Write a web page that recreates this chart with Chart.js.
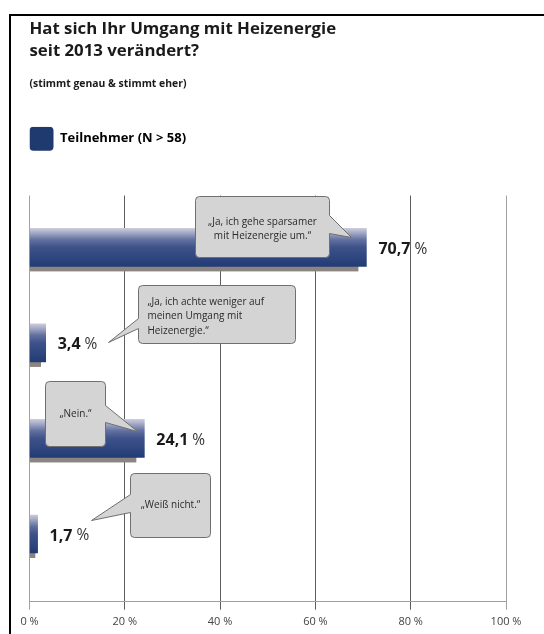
<!DOCTYPE html>
<html><head><meta charset="utf-8">
<script src="https://cdn.jsdelivr.net/npm/chart.js@4.4.1/dist/chart.umd.min.js"></script>
<style>html,body{margin:0;padding:0;background:#fff;}#wrap{width:544px;height:634px;}</style>
</head><body><div id="wrap"><canvas id="c" width="544" height="634"></canvas></div>
<script>
// ---- data ----
const titleLines = ['Hat sich Ihr Umgang mit Heizenergie', 'seit 2013 verändert?'];
const subtitleText = '(stimmt genau & stimmt eher)';
const seriesName = 'Teilnehmer (N > 58)';
const categories = [
  ['„Ja, ich gehe sparsamer', 'mit Heizenergie um.“'],
  ['„Ja, ich achte weniger auf', 'meinen Umgang mit', 'Heizenergie.“'],
  ['„Nein.“'],
  ['„Weiß nicht.“']
];
const values = [70.7, 3.4, 24.1, 1.7];
const tickValues = [0, 20, 40, 60, 80, 100];

// ---- callout placement (in axis units: x = %, y = category index) ----
const calloutLayout = [
  {box: [34.8, 62.9, -0.543, 0.096], side: 'right', base: [-0.340, -0.152], tip: [67.4, -0.107], align: 'center'},
  {box: [22.8, 55.7, 0.395, 1.002], side: 'left', base: [0.738, 0.843], tip: [16.5, 0.986], align: 'left'},
  {box: [3.3, 15.8, 1.402, 2.082], side: 'right', base: [1.646, 1.827], tip: [22.5, 1.918], align: 'center'},
  {box: [21.1, 37.9, 2.359, 3.028], side: 'left', base: [2.584, 2.766], tip: [12.9, 2.850], align: 'center'}
];

const FONT = '"Open Sans", sans-serif';
Chart.defaults.font.family = FONT;
const NAVY = '#1f3a6e';

const fmt = v => v.toFixed(1).replace('.', ',');

const framePlugin = {
  id: 'frame',
  beforeDraw(chart) {
    const ctx = chart.ctx;
    ctx.save();
    ctx.fillStyle = '#ffffff';
    ctx.fillRect(0, 0, chart.width, chart.height);
    ctx.fillStyle = '#000000';
    ctx.fillRect(9, 14, chart.width - 9, 2);
    ctx.fillRect(9, 14, 2, chart.height - 14);
    ctx.restore();
  }
};

const shadowPlugin = {
  id: 'barShadow',
  beforeDatasetsDraw(chart) {
    const ctx = chart.ctx;
    const meta = chart.getDatasetMeta(0);
    ctx.save();
    ctx.fillStyle = '#8b8581';
    meta.data.forEach(bar => {
      const {x, y, base, height} = bar.getProps(['x', 'y', 'base', 'height'], true);
      const w = x - base;
      const sw = w - Math.min(8, w * 0.3);
      ctx.fillRect(base, y - height / 2 + 5, sw, height);
    });
    ctx.restore();
  }
};

function calloutPath(ctx, x1, y1, x2, y2, r, side, ya, yb, tx, ty) {
  ctx.beginPath();
  ctx.moveTo(x1 + r, y1);
  ctx.lineTo(x2 - r, y1);
  ctx.arcTo(x2, y1, x2, y1 + r, r);
  if (side === 'right') { ctx.lineTo(x2, ya); ctx.lineTo(tx, ty); ctx.lineTo(x2, yb); }
  ctx.lineTo(x2, y2 - r);
  ctx.arcTo(x2, y2, x2 - r, y2, r);
  ctx.lineTo(x1 + r, y2);
  ctx.arcTo(x1, y2, x1, y2 - r, r);
  if (side === 'left') { ctx.lineTo(x1, yb); ctx.lineTo(tx, ty); ctx.lineTo(x1, ya); }
  ctx.lineTo(x1, y1 + r);
  ctx.arcTo(x1, y1, x1 + r, y1, r);
  ctx.closePath();
}

const labelPlugin = {
  id: 'labelsAndCallouts',
  afterDatasetsDraw(chart) {
    const ctx = chart.ctx;
    const meta = chart.getDatasetMeta(0);
    const xs = chart.scales.x, ys = chart.scales.y;
    ctx.save();
    // value labels
    meta.data.forEach((bar, i) => {
      const txt = fmt(values[i]);
      const lx = bar.x + 12, ly = bar.y + 2;
      ctx.textBaseline = 'middle';
      ctx.textAlign = 'left';
      ctx.font = 'bold 16px ' + FONT;
      ctx.fillStyle = '#1a1a1a';
      ctx.fillText(txt, lx, ly);
      const w = ctx.measureText(txt).width;
      ctx.font = '15.5px ' + FONT;
      ctx.fillStyle = '#333333';
      ctx.fillText('%', lx + w + 4, ly);
    });
    // callouts
    calloutLayout.forEach((c, i) => {
      const px = v => Math.round(xs.getPixelForValue(v)) + 0.5;
      const py = v => Math.round(ys.getPixelForValue(v)) + 0.5;
      const x1 = px(c.box[0]), x2 = px(c.box[1]), y1 = py(c.box[2]), y2 = py(c.box[3]);
      calloutPath(ctx, x1, y1, x2, y2, 4, c.side, py(c.base[0]), py(c.base[1]), px(c.tip[0]), py(c.tip[1]));
      ctx.fillStyle = '#d4d4d4';
      ctx.fill();
      ctx.lineWidth = 1;
      ctx.strokeStyle = '#707070';
      ctx.stroke();
      const lines = categories[i];
      const lh = 14.3;
      ctx.font = '10px ' + FONT;
      ctx.fillStyle = '#2a2a2a';
      ctx.textBaseline = 'middle';
      let tx;
      if (c.align === 'left') { ctx.textAlign = 'left'; tx = x1 + 9; }
      else { ctx.textAlign = 'center'; tx = (x1 + x2) / 2; }
      const cy = (y1 + y2) / 2 + (lines.length > 1 ? 2 : 0);
      lines.forEach((ln, k) => ctx.fillText(ln, tx, cy - (lines.length - 1) * lh / 2 + k * lh));
    });
    ctx.restore();
  }
};

function barGradient(c) {
  const chart = c.chart;
  const ys = chart.scales.y;
  if (!ys || c.type !== 'data' || !c.parsed) return NAVY;
  const py = ys.getPixelForValue(c.parsed.y);
  const g = chart.ctx.createLinearGradient(0, py - 19, 0, py + 19);
  g.addColorStop(0, '#cacada');
  g.addColorStop(0.12, '#a2a8c5');
  g.addColorStop(0.3, '#61709f');
  g.addColorStop(0.5, '#3d5289');
  g.addColorStop(1, '#223b75');
  return g;
}

new Chart(document.getElementById('c'), {
  type: 'bar',
  data: {
    datasets: [{
      label: seriesName,
      data: values.map((v, i) => ({x: v, y: i})),
      backgroundColor: barGradient,
      borderWidth: 0,
      barThickness: 38
    }]
  },
  options: {
    indexAxis: 'y',
    responsive: false,
    animation: false,
    events: [],
    layout: {padding: {left: 29.5, right: 38, top: 0, bottom: 0.5}},
    scales: {
      x: {
        type: 'linear', position: 'bottom', min: 0, max: 100,
        afterBuildTicks: s => { s.ticks = tickValues.map(v => ({value: v})); },
        grid: {
          color: c => (c.tick && (c.tick.value === 0 || c.tick.value === 100)) ? '#a0a0a0' : '#5e5e5e',
          lineWidth: 1, tickLength: 8, drawTicks: true
        },
        border: {display: true, color: '#a0a0a0', width: 1},
        ticks: {padding: 5.3, color: '#444444', font: {size: 11}, callback: v => v + ' %', maxRotation: 0, autoSkip: false}
      },
      gap: {
        type: 'linear', axis: 'x', position: 'top', display: true,
        grid: {display: false}, border: {display: false}, ticks: {display: false},
        afterFit: s => { s.height = 34.9; }
      },
      y: {type: 'linear', reverse: true, min: -0.543, max: 3.709, display: false, offset: false}
    },
    plugins: {
      title: {
        display: true, text: titleLines, align: 'start', color: '#1a1a1a',
        font: {size: 16.8, weight: 'bold', lineHeight: 1.32},
        padding: {top: 18.2, bottom: 0}
      },
      subtitle: {
        display: true, text: subtitleText, align: 'start', color: '#1a1a1a',
        font: {size: 10.4, weight: 'bold', lineHeight: 1.2},
        padding: {top: 15.2, bottom: 36.4}
      },
      legend: {
        display: true, position: 'top', align: 'start',
        labels: {
          boxWidth: 24, boxHeight: 24, padding: 0, useBorderRadius: true, borderRadius: 4,
          color: '#1a1a1a', font: {size: 13, weight: 'bold'},
          generateLabels: () => [{text: seriesName, fillStyle: NAVY, strokeStyle: NAVY, lineWidth: 0, hidden: false, datasetIndex: 0, borderRadius: 4}]
        }
      },
      tooltip: {enabled: false}
    }
  },
  plugins: [framePlugin, shadowPlugin, labelPlugin]
});
</script>
</body></html>
